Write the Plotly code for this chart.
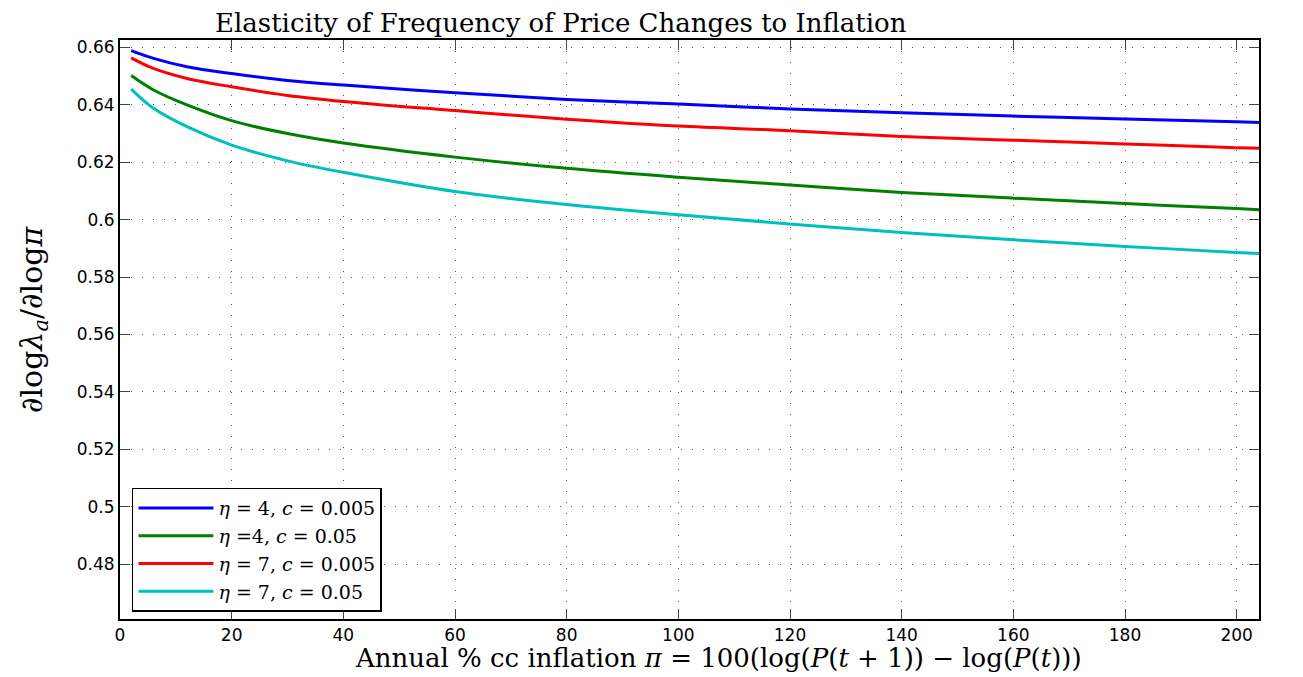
import plotly.graph_objects as go

x_vals = [2, 6, 12, 20, 30, 40, 60, 80, 100, 120, 140, 160, 180, 200, 204]
blue_vals = [0.6589, 0.6562, 0.6533, 0.6509, 0.6485, 0.6469, 0.6442, 0.6419, 0.6403, 0.6386, 0.6373, 0.6361, 0.6351, 0.6341, 0.6339]
green_vals = [0.6502, 0.6452, 0.6400, 0.6345, 0.6300, 0.6267, 0.6218, 0.6179, 0.6148, 0.6121, 0.6095, 0.6075, 0.6056, 0.6039, 0.6035]
red_vals = [0.6564, 0.6527, 0.6492, 0.6463, 0.6433, 0.6412, 0.6380, 0.6350, 0.6326, 0.6310, 0.6290, 0.6277, 0.6264, 0.6251, 0.6249]
cyan_vals = [0.6455, 0.6388, 0.6324, 0.6260, 0.6205, 0.6165, 0.6098, 0.6053, 0.6017, 0.5985, 0.5955, 0.5930, 0.5907, 0.5886, 0.5882]

series_names = ["<i>η</i> = 4, <i>c</i> = 0.005", "<i>η</i> =4, <i>c</i> = 0.05",
                "<i>η</i> = 7, <i>c</i> = 0.005", "<i>η</i> = 7, <i>c</i> = 0.05"]
series_colors = ["#0000ff", "#008000", "#ff0000", "#00bfbf"]

x_ticks = [0, 20, 40, 60, 80, 100, 120, 140, 160, 180, 200]
y_ticks = [0.48, 0.50, 0.52, 0.54, 0.56, 0.58, 0.60, 0.62, 0.64, 0.66]
y_ticklabels = ["0.48", "0.5", "0.52", "0.54", "0.56", "0.58", "0.6", "0.62", "0.64", "0.66"]

title_text = "Elasticity of Frequency of Price Changes to Inflation"
x_label = "Annual % cc inflation <i>π</i> = 100(log(<i>P</i>(<i>t</i> + 1)) − log(<i>P</i>(<i>t</i>)))"
y_label = "∂log<i>λ</i><sub><i>a</i></sub>/∂log<i>π</i>"

# page body has an 8px margin, so shift everything up/left by 8px
OFF = 8
PLOT_L, PLOT_T, PLOT_W, PLOT_H = 120 - OFF, 40 - OFF, 1139, 579
FIG_W, FIG_H = 1303 - OFF, 677 - OFF

fig = go.Figure()
for vals, name, color in zip([blue_vals, green_vals, red_vals, cyan_vals], series_names, series_colors):
    fig.add_trace(go.Scatter(x=x_vals, y=vals, mode="lines", name=name,
                             line=dict(color=color, width=3, shape="spline", smoothing=1.0)))

axis_common = dict(
    showline=True, linecolor="black", linewidth=2, mirror="ticks",
    ticks="inside", ticklen=10, tickcolor="#444", tickwidth=1,
    showgrid=True, gridcolor="#555", gridwidth=1, griddash="1px,10px",
    zeroline=False,
    tickfont=dict(family="DejaVu Sans", size=17, color="black"),
)

fig.update_xaxes(range=[0, 204], tickvals=x_ticks, ticktext=[str(v) for v in x_ticks], **axis_common)
fig.update_yaxes(range=[0.4609, 0.6626], tickvals=y_ticks, ticktext=y_ticklabels, **axis_common)

fig.update_layout(
    width=FIG_W, height=FIG_H,
    margin=dict(l=PLOT_L, r=FIG_W - PLOT_L - PLOT_W, t=PLOT_T, b=FIG_H - PLOT_T - PLOT_H),
    paper_bgcolor="white", plot_bgcolor="white",
    showlegend=True,
    legend=dict(x=0.0105, y=0.0126, xanchor="left", yanchor="bottom",
                bgcolor="white", bordercolor="black", borderwidth=1.5,
                font=dict(family="DejaVu Serif", size=19, color="black"),
                itemwidth=75, entrywidth=395, tracegroupgap=0),
    annotations=[
        dict(text=title_text, xref="paper", yref="paper", x=(213 - 120) / PLOT_W, y=1.0,
             xanchor="left", yanchor="bottom", yshift=0, showarrow=False,
             font=dict(family="DejaVu Serif", size=26, color="black")),
        dict(text=x_label, xref="paper", yref="paper", x=(718 - 120) / PLOT_W, y=0,
             xanchor="center", yanchor="top", yshift=-22, showarrow=False,
             font=dict(family="DejaVu Serif", size=26, color="black")),
        dict(text=y_label, xref="paper", yref="paper", x=0, y=(619 - 320) / PLOT_H,
             xanchor="center", yanchor="middle", xshift=-87, showarrow=False, textangle=-90,
             font=dict(family="DejaVu Serif", size=30, color="black")),
    ],
)

fig.write_html("out.html")
